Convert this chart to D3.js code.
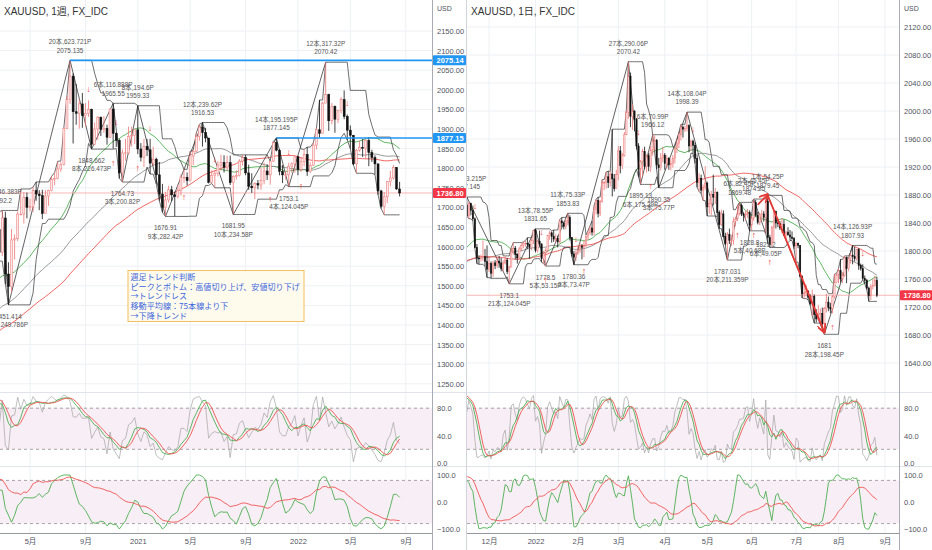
<!DOCTYPE html>
<html>
<head>
<meta charset="utf-8">
<script src="https://cdn.jsdelivr.net/npm/d3@7"></script>
<style>
  body { margin: 0; background: #fff; }
</style>
</head>
<body>
<script>
// ---------- weekly XAUUSD (left) ----------
// closes before the first drawn bar, only used for the averages / oscillators
const wkPreClose = [1194,1199,1192,1203,1218,1227,1233,1232,1209,1222,1223,1222,1248,1238,1257,1280,
  1285,1290,1282,1304,1318,1314,1322,1328,1294,1298,1302,1313,1292,1291,1290,1276,1286,1280,1285,1277,
  1284,1305,1341,1341,1399,1409,1399,1415,1426,1419,1440,1496,1513,1527,1520,1507,1488,1517,1489,1505,
  1489,1490,1505,1514,1459,1468,1462,1465,1460,1476,1478,1511,1552,1562,1557,1571,1589,1570,1584,1643];
const wkHigh = [1689,1692.2,1689,1560,1645,1631,1690,1747,1739,1738,
  1722,1752,1765,1744,1745,1744,1745,1779,1789,1818,
  1815,1904,1984,2075.135,2042,2015,1976,1992,1966,1973,
  1952,1917,1933,1932,1933,1911,1951,1965.55,1891,1875,
  1848,1875,1906,1906,1900,1959.33,1864,1875,1875,1875,
  1855,1827,1816,1760,1740,1755,1755,1740,1758,1784,
  1797,1789,1843,1846,1890,1912,1916.53,1903,1877,1795,
  1795,1818,1834,1833,1832,1832,1782,1795,1823,1834,
  1834,1809,1787,1764,1770,1801,1814,1810,1818,1868,
  1877.145,1849,1808,1793,1814,1815,1831,1831.65,1829,1848,
  1853.83,1815,1865,1902,1974,1970,2070.42,1990,1966.12,1960,
  1949,1981,1998.39,1937,1909,1885,1849,1870,1874.25,1875,
  1879.45,1847,1833,1812,1745,1739,1767,1793,1807.93,1803,
  1765];
const wkLow = [1563,1576,1504,1451.414,1482,1567,1614,1680,1659,1672,
  1690,1688,1717,1693,1670,1684,1704,1741,1757,1771,
  1791,1807,1900,1964,1863,1911,1901,1903,1906,1931,
  1848.662,1859,1873,1882,1890,1860,1877,1850,1854,1774,
  1764.73,1819,1836,1855,1862,1836,1817,1803,1831,1785,
  1806,1760,1717,1687,1676.91,1712,1716,1677.5,1723,1730,
  1763,1756,1766,1808,1840,1870,1855,1866,1761,1762,
  1750,1779,1794,1789,1794,1757,1681.95,1771,1779,1807,
  1782,1745,1737,1721,1746,1745,1759,1770,1758,1816,
  1843,1782,1762,1771,1753.1,1788,1789,1782,1790,1805,
  1780.36,1788,1806,1848,1878,1889,1966,1895.13,1912,1890.35,
  1915,1940,1925,1872,1850,1808,1787.031,1842,1828.8,1825.2,
  1805,1816,1784,1732,1697,1681,1711,1754,1771,1745,
  1728];
const wkClose = [1585,1673,1530,1498,1617,1620,1683,1683,1726,1700,
  1702,1743,1734,1730,1684,1729,1743,1771,1774,1798,
  1810,1902,1975,2035,1944,1940,1964,1934,1940,1950,
  1861,1900,1930,1899,1902,1879,1951,1889,1871,1788,
  1839,1839,1881,1883,1898,1849,1828,1856,1847,1813,
  1823,1783,1734,1700,1719,1745,1732,1728,1744,1777,
  1777,1768,1831,1843,1881,1905,1891,1877,1764,1781,
  1787,1808,1815,1802,1814,1763,1779,1781,1818,1827,
  1788,1754,1750,1761,1757,1768,1793,1783,1818,1865,
  1846,1792,1783,1783,1804,1811,1829,1797,1817,1835,
  1791,1807,1859,1898,1889,1966,1988,1921,1958,1925,
  1947,1975,1932,1897,1884,1811,1846,1853,1851,1871,
  1840,1827,1811,1742,1703,1727,1766,1775,1802,1747,
  1736.8];
const wkTickDates = ["2020-05-04","2020-09-07","2021-01-04","2021-05-03","2021-09-06","2022-01-03","2022-05-02","2022-09-05"];
const wkTickLabels = ["5月","9月","2021","5月","9月","2022","5月","9月"];
const wkPivIdx = [1,3,23,30,37,40,45,54,66,76,90,94,106];
const wkPivType = ["H","L","H","L","H","L","H","L","H","L","H","L","H"];
const wkPivPrice = [1692.2,1451.414,2075.135,1848.662,1965.55,1764.73,1959.33,1676.91,1916.53,1681.95,1877.145,1753.1,2070.42];
const wkPivNote = ["9本,246.383P","3本,249.786P","20本,623.721P","8本,226.473P","6本,116.888P","3本,200.82P","8本,194.6P",
  "9本,282.42P","12本,239.62P","10本,234.58P","14本,195.195P","4本,124.045P","12本,317.32P"];
const wkDownIdx = [29,38,49,70,94,113];
const wkUpIdx = [37,45,60,88,98];
const wkLevelIdx = [23,90];
const wkLevelPrice = [2075.14,1877.15];
const wkPriceTicks = d3.range(1250, 2151, 50);

// ---------- daily XAUUSD (right) ----------
const dPreClose = [1813,1810,1812,1805,1763,1729,1732,1752,1753,1779,1787,1786,1787,1780,1781,
  1805,1805,1790,1792,1817,1810,1813,1815,1809,1827,1823,1794,1788,1795,1787,
  1793,1805,1794,1754,1754,1764,1774,1768,1743,1750,1751,1734,1726,1756,1761,
  1769,1760,1761,1756,1757,1754,1760,1794,1796,1768,1765,1769,1782,1783,1793,
  1806,1793,1798,1799,1783,1793,1789,1769,1792,1818,1825,1826,1849,1862,1864];
const dHigh = [1868,1877.145,1870,1869,1865,1848,1810,1794,1795,1815,
  1803,1808,1792,1785,1786,1787,1792,1793,1790,1787,
  1792,1790,1779,1805,1812,1807,1797,1806,1811,1813,
  1815,1819,1810,1818,1830,1831.65,1816,1829,1811,1800,
  1804,1823,1829,1828,1830,1824,1822,1845,1848,1842,
  1845,1853.83,1851,1820,1800,1801,1807,1811,1810,1815,
  1823,1829,1836,1843,1865,1874,1877,1873,1902,1900,
  1913,1914,1914,1974,1910,1916,1950,1950,1940,1970,
  2002,2070.42,2055,2010,2001,1990,1954,1930,1946,1949,
  1938,1940,1950,1966.12,1965,1960,1933,1940,1949,1940,
  1937,1934,1932,1937,1949,1959,1970,1981,1979,1979,
  1998.39,1981,1959,1959,1955,1937,1911,1909,1895,1921,
  1899,1875,1886,1909,1890,1885,1858,1859,1858,1826,
  1827,1832,1823,1848,1849,1865,1869.48,1868,1855,1858,
  1860,1858,1850,1874.25,1873,1856,1855,1859,1857,1875,
  1879.45,1823,1836,1858,1857,1845,1843,1847,1845,1829,
  1834,1830,1828,1820,1813,1812,1808,1765,1752,1752,
  1744,1738,1745,1738,1717,1723,1718,1719,1720,1739,
  1735,1726,1737,1767,1768,1775,1788,1770,1793,1792,
  1791,1798,1807.93,1806,1803,1804,1782,1781,1765,1760,
  1749,1753,1760,1765,1763];
const dLow = [1850,1850,1846,1851,1843,1804,1782,1781,1785,1786,
  1778,1762,1770,1761,1763,1774,1776,1776,1771,1771,
  1781,1767,1753.1,1777,1795,1788,1782,1788,1800,1804,
  1806,1803,1789,1801,1810,1798,1798,1806,1784,1782,
  1778.5,1798,1816,1812,1813,1812,1805,1811,1834,1831,
  1831,1837,1815,1792,1780.36,1786,1795,1797,1788,1791,
  1806,1816,1823,1822,1822,1852,1848,1850,1869,1887,
  1889,1890,1892,1878,1885,1889,1901,1911,1917,1935,
  1966,1989,1977,1973,1971,1945,1906,1895.13,1906,1917,
  1912,1914,1913,1936,1943,1917,1890.35,1915,1927,1916,
  1918,1916,1915,1919,1925,1940,1947,1958,1962,1970,
  1971,1941,1943,1939,1925,1891,1885,1882,1872,1887,
  1850,1853,1851,1865,1867,1849,1832,1836,1820,1808,
  1787.031,1810,1807,1809,1835,1843,1851,1850,1842,1844,
  1847,1828.8,1829,1843,1849,1838,1837,1843,1842,1825.2,
  1811,1805,1807,1812,1832,1834,1830,1825,1822,1816,
  1822,1815,1816,1803,1784,1804,1763,1733,1732,1735,
  1730,1722,1707,1697,1698,1701,1701,1692,1681,1712,
  1714,1711,1711,1732,1754,1754,1755,1754,1763,1754,
  1771,1782,1781,1785,1786,1773,1772,1759,1753,1745,
  1728,1730,1745,1749,1734];
const dClose = [1866,1850,1868,1858,1846,1805,1790,1789,1792,1792,
  1785,1774,1782,1768,1783,1779,1785,1783,1775,1783,
  1787,1771,1777,1799,1804,1795,1790,1803,1808,1811,
  1811,1810,1805,1815,1829,1801,1814,1810,1789,1797,
  1801,1822,1826,1821,1817,1818,1813,1843,1840,1835,
  1843,1848,1819,1796,1791,1797,1801,1807,1805,1807,
  1821,1826,1833,1827,1859,1872,1854,1871,1898,1898,
  1906,1898,1910,1903,1889,1909,1943,1922,1936,1966,
  1998,2050,1992,2000,1988,1950,1917,1928,1942,1921,
  1936,1921,1944,1957,1958,1923,1919,1933,1937,1925,
  1932,1923,1925,1932,1947,1954,1966,1977,1974,1975,
  1979,1950,1957,1951,1932,1898,1904,1887,1891,1897,
  1863,1868,1881,1877,1884,1855,1838,1853,1821,1811,
  1824,1815,1815,1842,1846,1853,1865,1853,1851,1853,
  1855,1837,1847,1869,1851,1841,1852,1853,1848,1871,
  1819,1809,1834,1857,1840,1839,1833,1838,1822,1827,
  1823,1820,1818,1807,1811,1808,1764,1739,1740,1742,
  1734,1725,1735,1709,1703,1709,1711,1696,1718,1727,
  1719,1717,1735,1755,1766,1772,1760,1765,1791,1775,
  1789,1794,1792,1789,1802,1779,1775,1761,1758,1747,
  1736,1749,1751,1758,1736.8];
const dPivIdx = [1,22,35,40,51,54,81,87,93,96,110,130,136,141,143,149,150,178,192];
const dPivType = ["H","L","H","L","H","L","H","L","H","L","H","L","H","L","H","L","H","L","H"];
const dPivPrice = [1877.145,1753.1,1831.65,1778.5,1853.83,1780.36,2070.42,1895.13,1966.12,1890.35,1998.39,
  1787.031,1869.48,1828.8,1874.25,1825.2,1879.45,1681,1807.93];
const dPivNote = ["9本,123.215P","21本,124.045P","13本,78.55P","5本,53.15P","11本,75.33P","3本,73.47P","27本,290.06P",
  "6本,175.29P","6本,70.99P","3本,75.77P","14本,108.04P","20本,211.359P","6本,82.45P","5本,40.68P","2本,45.45P",
  "6本,49.05P","1本,54.25P","28本,198.45P","14本,126.93P"];
const dDownIdx = [5,38,55,86,113,197];
const dUpIdx = [40,59,92,135,143,151,182];
const dArrowFrom = [[145,1866],[150,1879]];
const dArrowTo = [[150,1881],[178,1684]];
const dPriceTicks = d3.range(1640, 2121, 40);

const noteLines = ["週足トレンド判断", "ピークとボトム：高値切り上げ、安値切り下げ", "→トレンドレス", "移動平均線：75本線より下", "→下降トレンド"];

// ---------- layout ----------
const FONT = '"Liberation Sans", "Noto Sans CJK JP", sans-serif';
const paneMain = [0, 392], osc1 = [393, 466], axisY = 533;
const UP = "#ec7474";

const svg = d3.select("body").append("svg").attr("width", 932).attr("height", 550)
  .style("font-family", FONT);
svg.append("rect").attr("width", 932).attr("height", 550).attr("fill", "#fff");
const defs = svg.append("defs");
defs.append("marker").attr("id", "redHead").attr("viewBox", "0 0 10 10")
  .attr("refX", 9).attr("refY", 5).attr("markerWidth", 5).attr("markerHeight", 5).attr("orient", "auto")
  .append("path").attr("d", "M0,0 L10,5 L0,10").attr("fill", "none").attr("stroke", "#e53935").attr("stroke-width", 2);

function sma(a, n) {
  return a.map((_, i) => {
    if (i < n - 1) return null;
    const s = a.slice(i - n + 1, i + 1);
    return s.some(v => v == null) ? null : d3.mean(s);
  });
}
function rsi(c, n) {
  const out = c.map(() => null);
  let g = 0, l = 0;
  for (let i = 1; i < c.length; i++) {
    const ch = c[i] - c[i - 1], up = Math.max(ch, 0), dn = Math.max(-ch, 0);
    if (i <= n) { g += up / n; l += dn / n; }
    else { g = (g * (n - 1) + up) / n; l = (l * (n - 1) + dn) / n; }
    if (i >= n) out[i] = l === 0 ? 100 : 100 - 100 / (1 + g / l);
  }
  return out;
}
function stochOf(src, hi, lo, n) {
  return src.map((v, i) => {
    if (v == null || i < n - 1) return null;
    const hs = hi.slice(i - n + 1, i + 1), ls = lo.slice(i - n + 1, i + 1);
    if (hs.some(x => x == null)) return null;
    const h = d3.max(hs), l = d3.min(ls);
    return h === l ? 50 : 100 * (v - l) / (h - l);
  });
}

function drawChart(c) {
  const n = c.close.length, off = c.pre.length;
  const open = c.close.map((v, i) => i === 0 ? c.pre[off - 1] : c.close[i - 1]);
  const allC = c.pre.concat(c.close), allH = c.pre.concat(c.high), allL = c.pre.concat(c.low);
  const yA = d3.scaleLinear().domain([0, 100]).range([463, 394.5]);
  const yB = d3.scaleLinear().domain([-100, 100]).range([529, 475]);
  const X = c.xAt;

  defs.append("clipPath").attr("id", c.id + "m").append("rect")
    .attr("x", c.x0).attr("y", 0).attr("width", c.x1 - c.x0).attr("height", paneMain[1]);
  defs.append("clipPath").attr("id", c.id + "o").append("rect")
    .attr("x", c.x0).attr("y", osc1[0]).attr("width", c.x1 - c.x0).attr("height", axisY - osc1[0]);

  // grid
  const grid = svg.append("g").attr("stroke", "#eef0f3").attr("stroke-width", 1);
  grid.selectAll(null).data(c.yTicks).join("line")
    .attr("x1", c.x0).attr("x2", c.x1).attr("y1", d => c.y(d)).attr("y2", d => c.y(d));
  grid.selectAll(null).data([40, 80]).join("line")
    .attr("x1", c.x0).attr("x2", c.x1).attr("y1", d => yA(d)).attr("y2", d => yA(d));
  grid.selectAll(null).data([0]).join("line")
    .attr("x1", c.x0).attr("x2", c.x1).attr("y1", d => yB(d)).attr("y2", d => yB(d));
  grid.selectAll(null).data(c.tickValues).join("line")
    .attr("x1", d => c.xScale(d)).attr("x2", d => c.xScale(d)).attr("y1", 0).attr("y2", axisY);

  // main pane
  const gm = svg.append("g").attr("clip-path", `url(#${c.id}m)`);
  const idx = d3.range(n);
  const isUp = i => c.close[i] >= open[i];

  const line = d3.line().defined(d => d[1] != null).x(d => d[0]).y(d => d[1]);
  // moving averages
  c.ma.forEach(m => {
    const v = sma(allC, m.n).slice(off);
    gm.append("path").attr("fill", "none").attr("stroke", m.color).attr("stroke-width", 0.9)
      .attr("d", line(idx.map(i => [X(i), v[i] == null ? null : c.y(v[i])])));
  });
  // highest high / lowest low channel
  const upper = idx.map(i => d3.max(c.high.slice(Math.max(0, i - 7), i + 1)));
  const lower = idx.map(i => d3.min(c.low.slice(Math.max(0, i - 7), i + 1)));
  [upper, lower].forEach(s => gm.append("path").attr("fill", "none").attr("stroke", "#4a4a4a")
    .attr("stroke-width", 0.8).attr("d", line(idx.map(i => [X(i), c.y(s[i])]))));
  // zigzag
  gm.append("path").attr("fill", "none").attr("stroke", "#3a3a3a").attr("stroke-width", 0.8)
    .attr("d", line(c.pivIdx.map((p, k) => [X(p), c.y(c.pivPrice[k])])));

  // current price line
  const last = c.close[n - 1];
  gm.append("line").attr("x1", c.x0).attr("x2", c.x1).attr("y1", c.y(last)).attr("y2", c.y(last))
    .attr("stroke", "#f4a3a3").attr("stroke-width", 0.8);

  // candles
  gm.append("g").selectAll("line").data(idx).join("line")
    .attr("x1", X).attr("x2", X)
    .attr("y1", i => c.y(c.high[i])).attr("y2", i => c.y(c.low[i]))
    .attr("stroke", i => isUp(i) ? UP : "#111").attr("stroke-width", 0.8);
  gm.append("g").selectAll("rect").data(idx).join("rect")
    .attr("x", i => X(i) - c.barW / 2).attr("width", c.barW)
    .attr("y", i => c.y(Math.max(open[i], c.close[i])))
    .attr("height", i => Math.max(0.8, Math.abs(c.y(open[i]) - c.y(c.close[i]))))
    .attr("fill", i => isUp(i) ? "#fde6e6" : "#111")
    .attr("stroke", i => isUp(i) ? UP : "#111").attr("stroke-width", 0.5);

  // level lines
  (c.levelIdx || []).forEach((li, k) => {
    gm.append("line").attr("x1", X(li)).attr("x2", c.x1)
      .attr("y1", c.y(c.levelPrice[k])).attr("y2", c.y(c.levelPrice[k]))
      .attr("stroke", "#2196f3").attr("stroke-width", 1.6);
  });

  // pivot notes
  const notes = gm.append("g").attr("font-size", 6.4).attr("fill", "#555").attr("text-anchor", "middle");
  c.pivIdx.forEach((p, k) => {
    const yy = c.y(c.pivPrice[k]);
    const hi = c.pivType[k] === "H";
    const first = hi ? c.pivNote[k] : String(c.pivPrice[k]);
    const second = hi ? String(c.pivPrice[k]) : c.pivNote[k];
    const y1 = hi ? yy - 16 : yy + 14;
    notes.append("text").attr("x", X(p)).attr("y", y1).text(first);
    notes.append("text").attr("x", X(p)).attr("y", y1 + 8.3).text(second);
  });

  // signal arrows
  const sig = gm.append("g").attr("font-size", 9).attr("fill", "#f0423a")
    .attr("text-anchor", "middle").attr("dominant-baseline", "central");
  c.downIdx.forEach(i => sig.append("text").attr("x", X(i)).attr("y", c.y(c.high[i]) - 11).text("↓"));
  c.upIdx.forEach(i => sig.append("text").attr("x", X(i)).attr("y", c.y(c.low[i]) + 14).text("↑"));

  // hand drawn red arrows
  (c.arrowFrom || []).forEach((a, k) => {
    const b = c.arrowTo[k];
    gm.append("line").attr("x1", X(a[0])).attr("y1", c.y(a[1])).attr("x2", X(b[0])).attr("y2", c.y(b[1]))
      .attr("stroke", "#e53935").attr("stroke-width", 1.8).attr("marker-end", "url(#redHead)");
  });

  // oscillators
  const go = svg.append("g").attr("clip-path", `url(#${c.id}o)`);
  go.append("rect").attr("x", c.x0).attr("width", c.x1 - c.x0)
    .attr("y", yA(80)).attr("height", yA(20) - yA(80)).attr("fill", "#f8eef6");
  go.append("rect").attr("x", c.x0).attr("width", c.x1 - c.x0)
    .attr("y", yB(80)).attr("height", yB(-80) - yB(80)).attr("fill", "#f8eef6");
  [[yA, 80], [yA, 20], [yB, 80], [yB, -80]].forEach(([s, v]) =>
    go.append("line").attr("x1", c.x0).attr("x2", c.x1).attr("y1", s(v)).attr("y2", s(v))
      .attr("stroke", "#8f8f8f").attr("stroke-width", 0.8).attr("stroke-dasharray", "3,3"));

  const kRaw = stochOf(allC, allH, allL, 14);
  const kSlow = sma(kRaw, 5), dSlow = sma(kSlow, 3);
  const r = rsi(allC, 14);
  const fast = sma(stochOf(r, r, r, 14), 3).map(v => v == null ? null : v * 2 - 100);
  const slow = sma(stochOf(allC, allH, allL, 30), 8).map(v => v == null ? null : v * 2 - 100);
  const oscLines = [
    [kRaw, yA, "#a3a3a3", 0.7], [kSlow, yA, "#4caf50", 0.9], [dSlow, yA, "#ef5350", 0.9],
    [fast, yB, "#4caf50", 0.9], [slow, yB, "#ef5350", 0.9]
  ];
  oscLines.forEach(([s, sc, col, w]) => {
    const v = s.slice(off);
    go.append("path").attr("fill", "none").attr("stroke", col).attr("stroke-width", w)
      .attr("d", line(idx.map(i => [X(i), v[i] == null ? null : sc(v[i])])));
  });

  // separators and borders
  const sep = svg.append("g").attr("stroke", "#e0e3eb");
  [392.5, 466.5].forEach(yy => sep.append("line").attr("x1", c.x0).attr("x2", c.x1 + 34).attr("y1", yy).attr("y2", yy));
  svg.append("line").attr("x1", c.x0).attr("x2", c.x1).attr("y1", axisY + 0.5).attr("y2", axisY + 0.5)
    .attr("stroke", "#9598a1");
  svg.append("line").attr("x1", c.x1 + 0.5).attr("x2", c.x1 + 0.5).attr("y1", 0).attr("y2", 550)
    .attr("stroke", "#a8abb4");

  // price axes
  const axisText = g => g.call(s => s.select(".domain").remove())
    .attr("font-size", 7.5).attr("font-family", FONT).attr("color", "#50535e");
  svg.append("g").attr("transform", `translate(${c.x1},0)`)
    .call(d3.axisRight(c.y).tickValues(c.yTicks).tickFormat(d3.format(".2f")).tickSize(0).tickPadding(5))
    .call(axisText);
  svg.append("g").attr("transform", `translate(${c.x1},0)`)
    .call(d3.axisRight(yA).tickValues([0, 40, 80]).tickFormat(d3.format(".1f")).tickSize(0).tickPadding(5))
    .call(axisText);
  svg.append("g").attr("transform", `translate(${c.x1},0)`)
    .call(d3.axisRight(yB).tickValues([-100, 0, 100]).tickFormat(d3.format(".1f")).tickSize(0).tickPadding(5))
    .call(axisText);
  svg.append("text").attr("x", c.x1 + 5).attr("y", 11).attr("font-size", 7).attr("fill", "#50535e").text("USD");

  // time axis
  svg.append("g").attr("transform", `translate(0,${axisY})`)
    .call(d3.axisBottom(c.xScale).tickValues(c.tickValues).tickFormat(c.tickFormat).tickSize(0).tickPadding(6))
    .call(axisText);

  // price tags
  const tag = (price, color) => {
    const t = svg.append("g");
    t.append("rect").attr("x", c.x1 + 1).attr("y", c.y(price) - 5).attr("width", 33).attr("height", 10)
      .attr("fill", color).attr("rx", 1);
    t.append("text").attr("x", c.x1 + 4.5).attr("y", c.y(price) + 2.8).attr("font-size", 7.5)
      .attr("fill", "#fff").attr("font-weight", "bold").text(d3.format(".2f")(price));
  };
  (c.levelPrice || []).forEach(p => tag(p, "#2196f3"));
  tag(last, "#f23645");

  // title
  svg.append("text").attr("x", c.x0 + 4).attr("y", 15).attr("font-size", 10).attr("fill", "#333")
    .text(c.title);
}

// ---------- weekly chart ----------
const parse = d3.timeParse("%Y-%m-%d");
const wkStart = new Date(2020, 1, 24);
const xW = d3.scaleTime().domain([wkStart, d3.timeWeek.offset(wkStart, 132)]).range([-0.8, 405.76]);
const wkTickVals = wkTickDates.map(parse);
drawChart({
  id: "wk", title: "XAUUSD, 1週, FX_IDC", x0: 0, x1: 432,
  xScale: xW, xAt: i => xW(d3.timeWeek.offset(wkStart, i)), barW: 2,
  tickValues: wkTickVals, tickFormat: (d, i) => wkTickLabels[i],
  y: d3.scaleLinear().domain([2150, 1250]).range([31, 383.8]), yTicks: wkPriceTicks,
  pre: wkPreClose, high: wkHigh, low: wkLow, close: wkClose,
  ma: [{ n: 26, color: "#4caf50" }, { n: 52, color: "#8c8c8c" }, { n: 75, color: "#ef5350" }],
  pivIdx: wkPivIdx, pivType: wkPivType, pivPrice: wkPivPrice, pivNote: wkPivNote,
  downIdx: wkDownIdx, upIdx: wkUpIdx, levelIdx: wkLevelIdx, levelPrice: wkLevelPrice
});

// ---------- daily chart ----------
const dDates = [];
for (let d = new Date(2021, 10, 15); dDates.length < 216; d = d3.timeDay.offset(d, 1)) {
  if (d.getDay() % 6 !== 0) dDates.push(d);
}
const dTickIdx = d3.range(1, dDates.length).filter(i => dDates[i].getMonth() !== dDates[i - 1].getMonth());
const xD = d3.scaleLinear().domain([0, 215]).range([464.8, 899.1]);
drawChart({
  id: "dy", title: "XAUUSD, 1日, FX_IDC", x0: 467, x1: 899,
  xScale: xD, xAt: i => xD(i), barW: 1.3,
  tickValues: dTickIdx,
  tickFormat: i => dDates[i].getMonth() === 0 ? String(dDates[i].getFullYear()) : (dDates[i].getMonth() + 1) + "月",
  y: d3.scaleLinear().domain([2120, 1640]).range([27, 363]), yTicks: dPriceTicks,
  pre: dPreClose, high: dHigh, low: dLow, close: dClose,
  ma: [{ n: 25, color: "#4caf50" }, { n: 50, color: "#8c8c8c" }, { n: 75, color: "#ef5350" }],
  pivIdx: dPivIdx, pivType: dPivType, pivPrice: dPivPrice, pivNote: dPivNote,
  downIdx: dDownIdx, upIdx: dUpIdx, arrowFrom: dArrowFrom, arrowTo: dArrowTo
});
svg.append("line").attr("x1", 466.5).attr("x2", 466.5).attr("y1", 0).attr("y2", 550).attr("stroke", "#d1d4dc");

// ---------- note box on the weekly chart ----------
const box = svg.append("g");
box.append("rect").attr("x", 128).attr("y", 270.5).attr("width", 176).attr("height", 51)
  .attr("fill", "#fffbea").attr("fill-opacity", 0.9).attr("stroke", "#f3bf62").attr("stroke-width", 1);
box.selectAll("text").data(noteLines).join("text")
  .attr("x", 130.5).attr("y", (d, i) => 279.8 + i * 9.75)
  .attr("font-size", 8.1).attr("font-family", '"Noto Sans CJK JP", sans-serif').attr("fill", "#3a66e0")
  .text(d => d);
</script>
</body>
</html>
